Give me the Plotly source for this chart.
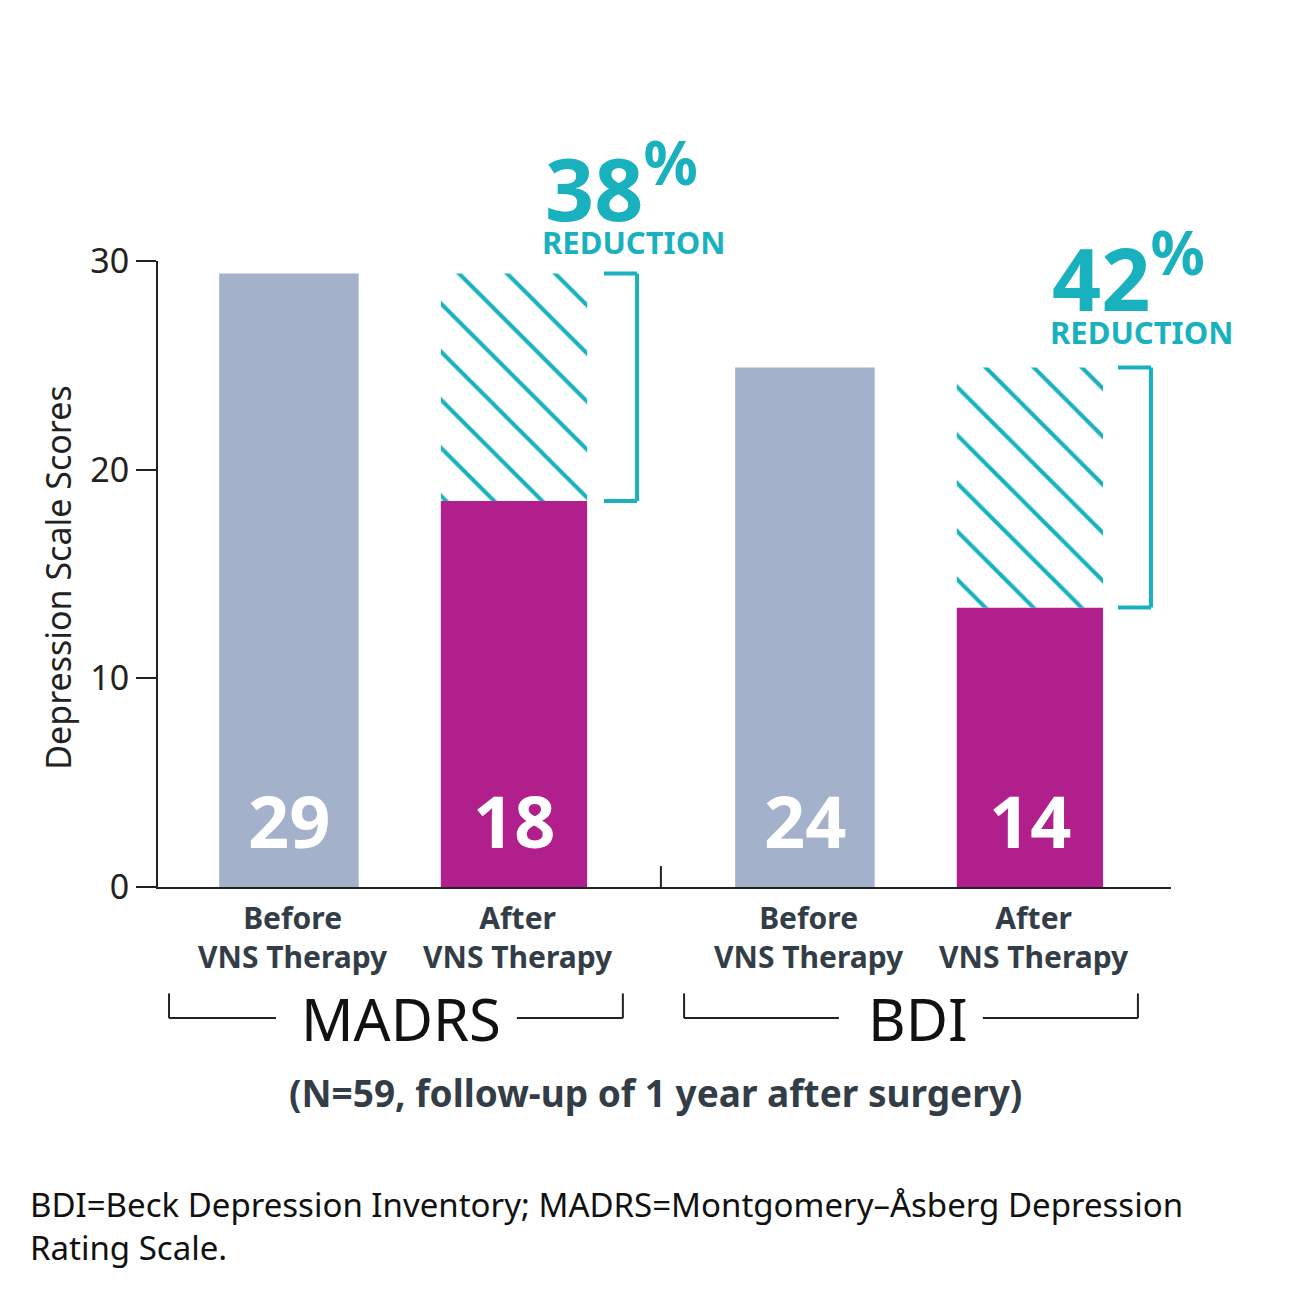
import plotly.graph_objects as go

x_pos = [0, 1, 2.293, 3.293]
heights = [29.4, 18.5, 24.9, 13.4]
labels = ["29", "18", "24", "14"]
widths = [0.62, 0.65, 0.62, 0.65]
colors = ["#a3b1ca", "#b01f8c", "#a3b1ca", "#b01f8c"]
cat_labels = ["Before<br>VNS Therapy", "After<br>VNS Therapy", "Before<br>VNS Therapy", "After<br>VNS Therapy"]
reductions = ["38", "42"]
groups = ["MADRS", "BDI"]

TEAL = "#1ab1bf"
DARK = "#333d47"
FONT = "Noto Sans"
YMAX = 30.0


def py(v):
    return v / YMAX


fig = go.Figure()
fig.add_trace(go.Bar(x=x_pos, y=heights, width=widths, marker=dict(color=colors, line=dict(width=0)),
                     hoverinfo="skip"))
hx = [x_pos[1], x_pos[3]]
hb = [heights[1], heights[3]]
hh = [heights[0] - heights[1], heights[2] - heights[3]]
fig.add_trace(go.Bar(x=hx, y=hh, base=hb, width=[widths[1], widths[3]],
                     marker=dict(color="white", line=dict(width=0),
                                 pattern=dict(shape="\\", fgcolor=TEAL, bgcolor="white", size=34,
                                              solidity=0.12, fillmode="replace")),
                     hoverinfo="skip"))

ann = []
for x, t in zip(x_pos, labels):
    ann.append(dict(x=x, y=3.2, text=f"<b>{t}</b>", showarrow=False, font=dict(size=72, color="white", family=FONT)))
for x, t in zip(x_pos, cat_labels):
    ann.append(dict(x=x + 0.02, yref="paper", y=py(-2.4), yanchor="middle", text=f"<b>{t}</b>", showarrow=False,
                    font=dict(size=30, color=DARK, family=FONT)))
for (xc, yc, xr, yr), r in zip([(1.476, 33.7, 1.53, 30.9), (3.733, 29.4, 3.787, 26.6)], reductions):
    ann.append(dict(x=xc, yref="paper", y=py(yc), yanchor="middle", text=f"<b>{r}<sup>%</sup></b>", showarrow=False,
                    font=dict(size=86, color=TEAL, family=FONT)))
    ann.append(dict(x=xr, yref="paper", y=py(yr), yanchor="middle", text="<b>REDUCTION</b>", showarrow=False,
                    font=dict(size=31, color=TEAL, family=FONT)))
for xc, g in zip([0.498, 2.796], groups):
    ann.append(dict(x=xc, yref="paper", y=py(-6.28), yanchor="middle", text=g, showarrow=False,
                    bgcolor="white", font=dict(size=58, color="#111", family=FONT)))
ann.append(dict(xref="paper", yref="paper", x=0.491, y=-0.329, xanchor="center", yanchor="middle",
                text="<b>(N=59, follow-up of 1 year after surgery)</b>",
                showarrow=False, font=dict(size=37, color=DARK, family=FONT)))
ann.append(dict(xref="paper", yref="paper", x=-0.128, y=-0.542, xanchor="left", yanchor="middle", align="left",
                text="BDI=Beck Depression Inventory; MADRS=Montgomery–Åsberg Depression<br>Rating Scale.",
                showarrow=False, font=dict(size=33, color="#111", family=FONT)))
ann.append(dict(xref="paper", yref="paper", x=-0.0987, y=0.494, xanchor="center", yanchor="middle", textangle=-90,
                text="Depression Scale Scores", showarrow=False, font=dict(size=34, color="#222", family=FONT)))

shapes = []
line = dict(color=TEAL, width=4)
for xl, xr, yt, yb in [(1.40, 1.547, heights[0], heights[1]), (3.684, 3.831, heights[2], heights[3])]:
    shapes += [dict(type="line", x0=xl, x1=xr, y0=yt, y1=yt, line=line),
               dict(type="line", x0=xr, x1=xr, y0=yt, y1=yb, line=line),
               dict(type="line", x0=xl, x1=xr, y0=yb, y1=yb, line=line)]
bl = dict(color="#222", width=2)
for a, b, c, d in [(-0.533, -0.058, 1.013, 1.484), (1.756, 2.444, 3.084, 3.773)]:
    for s in [dict(x0=a, x1=b, y0=-6.28, y1=-6.28), dict(x0=c, x1=d, y0=-6.28, y1=-6.28),
              dict(x0=a, x1=a, y0=-5.1, y1=-6.28), dict(x0=d, x1=d, y0=-5.1, y1=-6.28)]:
        shapes.append(dict(type="line", xref="x", yref="paper", x0=s["x0"], x1=s["x1"],
                           y0=py(s["y0"]), y1=py(s["y1"]), line=bl))
shapes.append(dict(type="line", x0=1.653, x1=1.653, y0=0, y1=1.0, line=bl))

fig.update_layout(
    width=1293, height=1293, paper_bgcolor="white", plot_bgcolor="white",
    margin=dict(l=150, r=130, t=253, b=414), showlegend=False, barmode="overlay",
    xaxis=dict(range=[-0.582, 3.92], showticklabels=False, showgrid=False, zeroline=False,
               showline=True, linecolor="#222", linewidth=2, ticks=""),
    yaxis=dict(range=[0, YMAX], tickvals=[0, 10, 20, 30], showgrid=False, zeroline=False,
               showline=True, linecolor="#222", linewidth=2, ticks="outside", ticklen=20, tickwidth=2,
               tickcolor="#222", tickfont=dict(size=34, color="#222", family=FONT)),
    annotations=ann, shapes=shapes,
)
fig.write_html("out.html")
